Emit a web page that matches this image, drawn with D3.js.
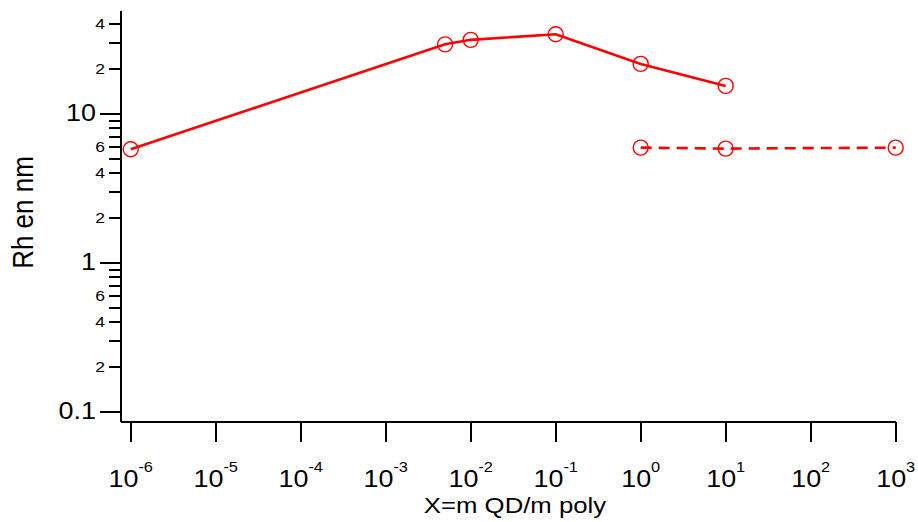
<!DOCTYPE html>
<html>
<head>
<meta charset="utf-8">
<script src="https://cdn.jsdelivr.net/npm/d3@7"></script>
<style>
  body{margin:0;background:#fff;}
  svg text{font-family:"Liberation Sans", Arial, sans-serif; fill:#000;}
</style>
</head>
<body>
<div class="chart"></div>
<script>
/*data*/
var solidX=[1e-6, 5e-3, 1e-2, 1e-1, 1, 10];
var solidY=[5.74, 29.1, 31.2, 34.0, 21.5, 15.3];
var dashX=[1, 10, 1000];
var dashY=[5.89, 5.80, 5.89];

/*tick values and labels*/
var xExponents=[-6,-5,-4,-3,-2,-1,0,1,2,3];
var yMajor=[0.1, 1, 10];
var yMajorLabels=["0.1","1","10"];
var yMinor=[0.2,0.3,0.4,0.5,0.6,0.7,0.8,0.9, 2,3,4,5,6,7,8,9, 20,30,40];
var yMinorLabeled=[0.2,0.4,0.6, 2,4,6, 20,40];
var yMinorLabels=["2","4","6","2","4","6","2","4"];

var xTitle="X=m QD/m poly";
var yTitle="Rh en nm";

/*dimensions*/
var width=918, height=522;
var stretch=1.17; // text in the picture is a bit wider than Arial

var xScale=d3.scaleLog()
  .domain([Math.pow(10,-6.126), 1000])
  .range([120, 895.7]);

var yScale=d3.scaleLog()
  .domain([0.0849, 49.5])
  .range([421.7, 10]);

var svg=d3.select(".chart").append("svg")
  .attr("width", width)
  .attr("height", height);

/*axes*/
var yAxisMajor=d3.axisLeft(yScale).tickValues(yMajor).tickSize(20).tickSizeOuter(0).tickFormat("");
var yAxisMinor=d3.axisLeft(yScale).tickValues(yMinor).tickSize(11).tickSizeOuter(0).tickFormat("");
var xAxis=d3.axisBottom(xScale)
  .tickValues(xExponents.map(function(e){return Math.pow(10,e);}))
  .tickSize(20).tickSizeOuter(0).tickFormat("");

svg.append("g").attr("class","y-axis").attr("transform","translate(120,0)").call(yAxisMajor);
svg.append("g").attr("class","y-minor").attr("transform","translate(120,0)").call(yAxisMinor);
svg.append("g").attr("class","x-axis").attr("transform","translate(0,421.7)").call(xAxis);

svg.selectAll(".domain, .tick line")
  .attr("stroke","#000")
  .attr("stroke-width",2)
  .attr("shape-rendering","crispEdges");

/*y labels*/
svg.append("g").selectAll("text")
  .data(yMajor)
  .enter().append("text")
  .attr("transform", function(d){return "translate(96,"+(yScale(d)+8)+") scale("+stretch+",1)";})
  .attr("text-anchor","end")
  .style("font-size","23px")
  .text(function(d,i){return yMajorLabels[i];});

svg.append("g").selectAll("text")
  .data(yMinorLabeled)
  .enter().append("text")
  .attr("transform", function(d){return "translate(105,"+(yScale(d)+5.5)+") scale("+stretch+",1)";})
  .attr("text-anchor","end")
  .style("font-size","15px")
  .text(function(d,i){return yMinorLabels[i];});

/*x labels, 10 with exponent*/
var xl=svg.append("g").selectAll("text")
  .data(xExponents)
  .enter().append("text")
  .attr("transform", function(d){return "translate("+xScale(Math.pow(10,d))+",486.7) scale("+stretch+",1)";})
  .attr("text-anchor","middle");
xl.append("tspan").style("font-size","23px").text("10");
xl.append("tspan").attr("dy",-15).style("font-size","14px").text(function(d){return d;});

/*titles*/
svg.append("text")
  .attr("transform","translate(515,512.7) scale("+stretch+",1)")
  .attr("text-anchor","middle")
  .style("font-size","22px")
  .text(xTitle);

svg.append("text")
  .attr("transform","translate(33.3,212.5) scale("+stretch+",1) rotate(-90)")
  .attr("text-anchor","middle")
  .style("font-size","26px")
  .text(yTitle);

/*series*/
function draw(xs, ys, dash){
  var pts=xs.map(function(x,i){return [x, ys[i]];});
  var line=d3.line()
    .x(function(d){return xScale(d[0]);})
    .y(function(d){return yScale(d[1]);});
  svg.append("path")
    .datum(pts)
    .attr("d", line)
    .attr("fill","none")
    .attr("stroke","#ff0000")
    .attr("stroke-width",2.6)
    .attr("stroke-dasharray", dash ? "11,7" : null);
  svg.append("g").selectAll("circle")
    .data(pts)
    .enter().append("circle")
    .attr("cx", function(d){return xScale(d[0]);})
    .attr("cy", function(d){return yScale(d[1]);})
    .attr("r", 7.5)
    .attr("fill","none")
    .attr("stroke","#ff0000")
    .attr("stroke-width",1.4);
}
draw(solidX, solidY, false);
draw(dashX, dashY, true);
</script>
</body>
</html>
